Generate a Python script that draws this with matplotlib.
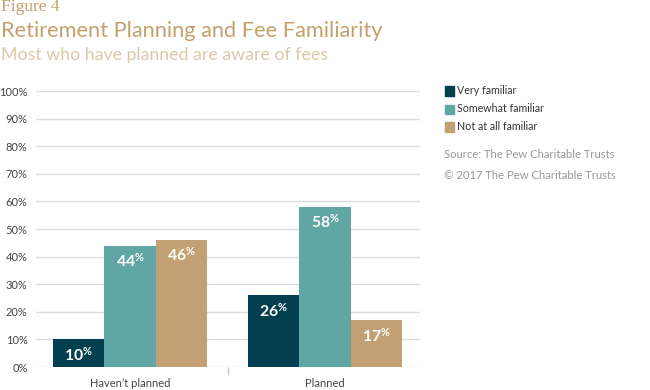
import matplotlib
matplotlib.use("Agg")
import matplotlib.pyplot as plt
from matplotlib.patches import Rectangle
import numpy as np

categories = ["Haven\u2019t planned", "Planned"]
series_names = ["Very familiar", "Somewhat familiar", "Not at all familiar"]
very = [10, 26]
somewhat = [44, 58]
notatall = [46, 17]
yticks = [0, 10, 20, 30, 40, 50, 60, 70, 80, 90, 100]
ytick_labels = [f"{v}%" for v in yticks]

colors = ["#023f4f", "#60a6a4", "#c4a174"]

plt.rcParams['font.family'] = ['Lato', 'DejaVu Sans']
plt.rcParams['mathtext.fontset'] = 'custom'
plt.rcParams['mathtext.rm'] = 'Lato:bold'
plt.rcParams['mathtext.bf'] = 'Lato:bold'
plt.rcParams['mathtext.it'] = 'Lato:bold'

fig = plt.figure(figsize=(6.5, 3.9), dpi=100)
ax = fig.add_axes([36/650, 1-367/390, (420-36)/650, (367-91)/390])

x = np.arange(len(categories))
w = 0.262
data = [very, somewhat, notatall]
for i, (vals, c) in enumerate(zip(data, colors)):
    xs = x + (i - 1) * w
    ax.bar(xs, vals, width=w, color=c, zorder=3)
    for xi, v in zip(xs, vals):
        ax.annotate(f"{v}" + r"$^{\mathrm{\%}}$", (xi, v), xytext=(0, -4.5),
                    textcoords="offset points", ha="center", va="top",
                    color="white", fontsize=11.3, fontweight="bold", zorder=4)

ax.set_ylim(0, 100)
ax.set_xlim(-0.482, 1.487)
ax.set_yticks(yticks)
ax.set_yticklabels(ytick_labels)
ax.yaxis.grid(True, color="#dcdcdc", linewidth=1, zorder=0)
ax.set_axisbelow(True)
for s in ax.spines.values():
    s.set_visible(False)
ax.tick_params(axis="y", length=0, labelsize=8, labelcolor="#444444", pad=6)
ax.set_xticks(x)
ax.set_xticklabels(categories)
ax.tick_params(axis="x", length=0, labelsize=8, labelcolor="#444444", pad=8)
ax.set_xticks([0.5], minor=True)
ax.tick_params(axis="x", which="minor", length=6, color="#cccccc", width=1)

# titles
fig.text(1/650, 1-11/390, "Figure 4", fontsize=12.5, color="#c4a06a",
         family=["Liberation Serif", "DejaVu Serif"], va="baseline", ha="left")
fig.text(1/650, 1-37/390, "Retirement Planning and Fee Familiarity", fontsize=15.7,
         color="#c4a06a", va="baseline", ha="left")
fig.text(1/650, 1-60/390, "Most who have planned are aware of fees", fontsize=12.8,
         color="#dcc8a6", va="baseline", ha="left")

# legend
for i, (name, c) in enumerate(zip(series_names, colors)):
    yc = 91 + i * 18
    fig.patches.append(Rectangle((445/650, 1-(yc+4.5)/390), 9/650, 9/390,
                                 transform=fig.transFigure, color=c, figure=fig))
    fig.text(457/650, 1-yc/390, name, fontsize=7.7, color="#333333",
             va="center", ha="left")

fig.text(444/650, 1-155/390, "Source: The Pew Charitable Trusts", fontsize=8.1,
         color="#999999", va="center", ha="left")
fig.text(444/650, 1-176/390, "\u00a9 2017 The Pew Charitable Trusts", fontsize=8.1,
         color="#999999", va="center", ha="left")

fig.savefig("out.png", dpi=100)
